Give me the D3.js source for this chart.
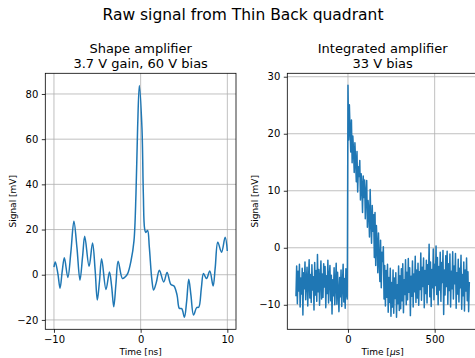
<!DOCTYPE html>
<html><head><meta charset="utf-8">
<script src="https://cdn.jsdelivr.net/npm/d3@7"></script>
<style>
body{margin:0;background:#fff;}
svg{display:block;font-family:"DejaVu Sans",sans-serif;}
.tick text{font-size:10px;fill:#000;}
</style></head><body>
<svg id="c" width="475" height="358"></svg>
<script>
// ---- Data: shape amplifier (time in ns, signal in mV)
const shapeTime = [-10,-9.85,-9.55,-9.3,-9.05,-8.8,-8.4,-8.05,-7.7,-7.35,-7.0,-6.7,-6.45,-5.95,-5.55,-5.25,-5.0,-4.75,-4.5,-4.0,-3.6,-3.35,-3.1,-2.85,-2.6,-2.1,-1.8,-1.5,-1.1,-0.77,-0.54,-0.35,-0.15,0.15,0.31,0.46,0.6,0.8,1.0,1.3,1.5,1.8,2.16,2.66,3.05,3.47,3.85,4.2,4.47,4.74,5.05,5.3,5.55,5.8,6.1,6.47,6.7,7.0,7.25,7.6,7.98,8.36,8.6,8.9,9.33,9.75,10];
const shapeSignal = [3.4,5.6,0.5,-6.0,1.5,7.5,-1.2,10,23.7,12,-2.4,8,17,3.7,14,2,-11.2,-3,7.1,-6.5,1.2,-5,-14.2,-4,6.0,-1.7,-1.0,0.5,6.4,15,35.7,65,83.8,65,35.7,20.3,18.7,19.6,12.2,-2.4,-6.8,-3.5,2.0,-3.2,1.0,-4.2,-5.0,-9.0,-14.9,-15.0,-18.8,-12,-2.0,-9,-17.8,-14.5,-14.4,-6,0.5,-1.7,1.7,-5.0,3,14.4,10.0,16.6,10.5];
const shapeXTicks = [-10,0,10];
const shapeYTicks = [-20,0,20,40,60,80];

// ---- Data: integrated amplifier (time in µs, signal in mV), sampled every 4 µs from -300 to 700
const integStart = -300, integStep = 4;
const integSignal = [
-8.5,-3.2,-9.8,-4.1,-7.6,-2.9,-10.4,-5.3,-8.1,-3.6,-11.8,-4.4,-7.2,-2.5,-9.1,-5.8,-3.4,-10.2,-6.0,-2.1,-8.8,-4.7,-9.6,-3.0,-7.4,
-5.1,-10.9,-2.6,-8.3,-4.0,-9.4,-1.2,-7.7,-3.8,-10.1,-5.5,-2.3,-9.0,-4.6,-8.7,-2.8,-6.9,-3.3,-10.5,-4.9,-8.0,-2.2,-9.7,-5.0,-3.1,
-9.3,-4.8,-11.6,-5.6,-8.4,-3.5,-10.0,-6.2,-2.7,-9.9,-4.3,-7.9,-11.2,-5.2,-8.6,-3.9,-10.3,-6.6,-2.9,-9.5,-5.4,-10.6,-3.7,-8.2,-9.0,
28.5,18.9,25.1,20.7,16.8,22.4,14.9,19.6,17.0,13.2,18.4,15.1,11.6,16.9,9.8,14.2,12.5,15.3,8.4,13.0,10.9,6.2,12.6,8.8,11.9,
5.1,9.7,11.8,3.6,8.3,6.4,1.9,10.2,4.7,0.8,7.4,2.9,5.8,-1.7,6.2,-3.1,3.9,0.7,-4.4,2.6,-2.2,-5.9,1.3,-7.0,-0.8,
-2.4,0.2,-9.0,-3.1,-10.2,-4.0,-8.7,-2.9,-11.3,-5.2,-9.6,-3.6,-12.0,-6.1,-10.4,-3.9,-11.5,-5.3,-8.9,-4.4,-12.2,-6.5,-9.8,-3.2,-11.0,
-4.9,-10.7,-3.7,-9.3,-2.8,-11.4,-5.6,-8.2,-2.1,-10.0,-4.3,-9.1,-1.9,-7.8,-3.5,-11.9,-5.0,-8.5,-2.3,-10.4,-4.6,-7.7,-1.5,-9.6,-3.9,
-8.8,-2.7,-10.1,-4.2,-7.3,-0.9,-9.2,-3.4,-6.8,-1.8,-10.5,-4.0,-8.0,-2.2,-9.7,-3.0,-6.4,0.6,-8.6,-2.5,-10.3,-3.8,-7.0,-0.2,-9.1,
-2.9,-6.6,0.3,-8.2,-1.7,-10.0,-3.3,-7.4,-0.8,-9.4,-2.6,-6.1,-0.5,-11.7,-3.9,-8.3,-1.4,-6.8,-0.6,-9.9,-2.8,-7.5,-1.1,-10.4,-4.1,
-7.2,-0.7,-9.0,-3.2,-6.3,-1.0,-10.6,-4.4,-8.1,-2.0,-9.5,-3.6,-7.0,-1.3,-10.8,-4.7,-8.4,-2.5,-11.1,-3.9,-7.6,-1.8,-9.3,-4.2,-11.2,-6.0
];
const integXTicks = [0,500];
const integYTicks = [-10,0,10,20,30];

const svg = d3.select("#c");
const blue = "#1f77b4";

svg.append("text").attr("x",243).attr("y",20).attr("text-anchor","middle")
  .attr("font-size","15.5px").text("Raw signal from Thin Back quadrant");

function panel(o){
  const g = svg.append("g");
  const x = d3.scaleLinear().domain(o.xdom).range([o.left,o.right]);
  const y = d3.scaleLinear().domain(o.ydom).range([o.bottom,o.top]);
  const cx = (o.left+o.right)/2;
  // grid
  g.append("g").selectAll("line").data(o.xticks).join("line")
    .attr("x1",d=>x(d)).attr("x2",d=>x(d)).attr("y1",o.top).attr("y2",o.bottom)
    .attr("stroke","#b0b0b0").attr("stroke-width",0.8);
  g.append("g").selectAll("line").data(o.yticks).join("line")
    .attr("y1",d=>y(d)).attr("y2",d=>y(d)).attr("x1",o.left).attr("x2",o.right)
    .attr("stroke","#b0b0b0").attr("stroke-width",0.8);
  // line
  const clipId = "clip"+o.id;
  svg.append("clipPath").attr("id",clipId).append("rect")
    .attr("x",o.left).attr("y",o.top).attr("width",o.right-o.left).attr("height",o.bottom-o.top);
  const line = d3.line().x(d=>x(d[0])).y(d=>y(d[1])).curve(o.curve);
  g.append("path").datum(o.data).attr("d",line).attr("fill","none")
    .attr("stroke",blue).attr("stroke-width",1.5).attr("stroke-linejoin","round")
    .attr("clip-path",`url(#${clipId})`);
  // spines
  g.append("rect").attr("x",o.left).attr("y",o.top).attr("width",o.right-o.left).attr("height",o.bottom-o.top)
    .attr("fill","none").attr("stroke","#000").attr("stroke-width",0.8);
  // axes
  const xa = g.append("g").attr("transform",`translate(0,${o.bottom})`)
    .call(d3.axisBottom(x).tickValues(o.xticks).tickSize(3.5).tickPadding(3.5).tickSizeOuter(0)
      .tickFormat(d=>d<0?"\u2212"+Math.abs(d):d));
  const ya = g.append("g").attr("transform",`translate(${o.left},0)`)
    .call(d3.axisLeft(y).tickValues(o.yticks).tickSize(3.5).tickPadding(3.5).tickSizeOuter(0)
      .tickFormat(d=>d<0?"\u2212"+Math.abs(d):d));
  [xa,ya].forEach(a=>{a.select(".domain").remove();a.selectAll(".tick line").attr("stroke","#000").attr("stroke-width",0.8);
    a.attr("font-family",null).attr("font-size",null);});
  // titles
  o.title.forEach((t,i)=>svg.append("text").attr("x",cx).attr("y",53.3+i*15).attr("text-anchor","middle")
    .attr("font-size","13px").text(t));
  // labels
  const xl = svg.append("text").attr("x",cx).attr("y",355).attr("text-anchor","middle").attr("font-size","9px");
  o.xlabel(xl);
  svg.append("text").attr("transform",`translate(${o.left-32},${(o.top+o.bottom)/2}) rotate(-90)`)
    .attr("text-anchor","middle").attr("dy","0.35em").attr("font-size","9px").text("Signal [mV]");
}

panel({id:1,left:45.3,right:236,top:73.3,bottom:329.3,xdom:[-11,11],ydom:[-24.15,89.15],
  xticks:shapeXTicks,yticks:shapeYTicks,data:shapeTime.map((t,i)=>[t,shapeSignal[i]]),
  curve:d3.curveCatmullRom.alpha(0.5),title:["Shape amplifier","3.7 V gain, 60 V bias"],
  xlabel:s=>s.text("Time [ns]")});

panel({id:2,left:287.3,right:478,top:73.3,bottom:329.3,xdom:[-350,750],ydom:[-14.3,30.6],
  xticks:integXTicks,yticks:integYTicks,data:integSignal.map((v,i)=>[integStart+i*integStep,v]),
  curve:d3.curveLinear,title:["Integrated amplifier","33 V bias"],
  xlabel:s=>{s.append("tspan").text("Time [");s.append("tspan").attr("font-style","italic").text("\u03bc");s.append("tspan").text("s]");}});
</script>
</body></html>
